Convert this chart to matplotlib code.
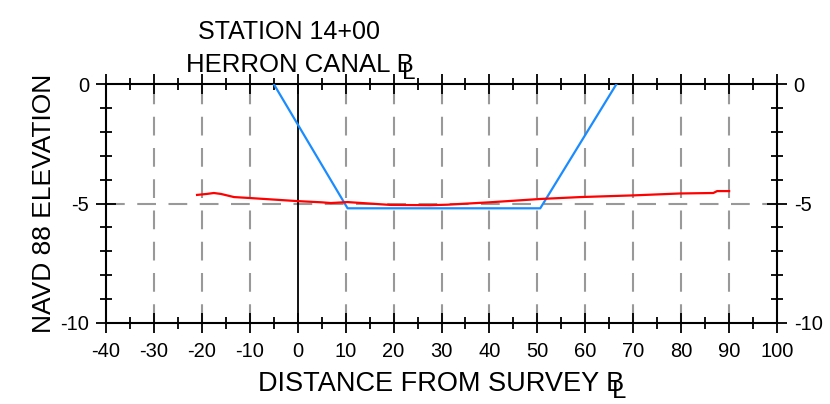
import matplotlib.pyplot as plt
from matplotlib.ticker import MultipleLocator

plt.rcParams['font.family'] = ['Liberation Sans', 'DejaVu Sans']
plt.rcParams['axes.unicode_minus'] = False

# design canal section (blue)
design_x = [-5, 10.4, 50.6, 66.5]
design_y = [0, -5.2, -5.2, 0]

# surveyed ground (red)
ground_x = [-21, -19, -17.5, -16, -13.3, -10, 0, 5, 6.9, 10.4, 19.4, 27.7, 31.2, 40, 50.6, 59, 70, 79.8, 86.7, 87.5, 90]
ground_y = [-4.64, -4.6, -4.56, -4.6, -4.73, -4.77, -4.9, -4.95, -4.98, -4.94, -5.06, -5.07, -5.05, -4.95, -4.81, -4.73, -4.66, -4.58, -4.56, -4.48, -4.48]

fig = plt.figure(figsize=(8.3, 4.04), dpi=100)
ax = fig.add_axes([0.1277, 0.2005, 0.8085, 0.5915])

ax.set_xlim(-40, 100)
ax.set_ylim(-10, 0)

# grid
for gx in range(-30, 100, 10):
    if gx == 0:
        ax.axvline(0, color='black', lw=1.3, zorder=2)
    else:
        ax.axvline(gx, color='#999999', lw=1.5, ls=(0, (9, 6)), zorder=1)
ax.axhline(-5, color='#999999', lw=1.5, ls=(0, (9, 6)), zorder=1)

ax.plot(design_x, design_y, color='#1a8cff', lw=1.6, zorder=3)
ax.plot(ground_x, ground_y, color='#ff0000', lw=1.6, zorder=4)

ax.xaxis.set_major_locator(MultipleLocator(10))
ax.xaxis.set_minor_locator(MultipleLocator(5))
ax.yaxis.set_major_locator(MultipleLocator(5))
ax.yaxis.set_minor_locator(MultipleLocator(1))
ax.tick_params(which='both', direction='inout', top=True, right=True,
               labelright=True, labelsize=14.5, width=1.3)
ax.tick_params(which='major', length=14)
ax.tick_params(axis='x', which='major', pad=7)
ax.tick_params(axis='y', which='major', pad=5)
ax.tick_params(which='minor', length=8)
for s in ax.spines.values():
    s.set_linewidth(1.5)

ax.set_ylabel('NAVD 88 ELEVATION', fontsize=19, labelpad=3)

# centreline symbol drawn as an "L" over the "B", like the original drawing
def centreline(txt, dx, dy):
    ax.annotate('L', xy=(1, 0), xycoords=txt, xytext=(dx, dy),
                textcoords='offset pixels', ha='right', va='baseline',
                fontsize=txt.get_fontsize() * 0.95, annotation_clip=False)

xl = fig.text(0.531, 0.033, 'DISTANCE FROM SURVEY B', ha='center', va='baseline', fontsize=19.5)
centreline(xl, 2, -1)

fig.text(0.348, 0.9035, 'STATION 14+00', ha='center', va='baseline', fontsize=18)
t2 = fig.text(0.361, 0.821, 'HERRON CANAL B', ha='center', va='baseline', fontsize=18.5)
centreline(t2, 2, -2)

fig.savefig('out.png', dpi=100)
